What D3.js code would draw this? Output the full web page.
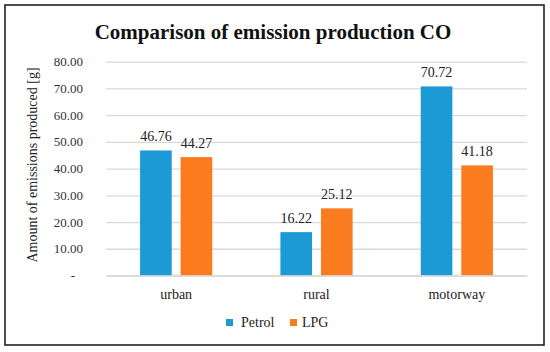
<!DOCTYPE html>
<html><head><meta charset="utf-8">
<script src="https://cdn.jsdelivr.net/npm/d3@7"></script>
<style>body{margin:0;background:#fff}svg{display:block}</style>
</head><body><svg id="c" width="550" height="352"></svg>
<script>
const categories = ["urban", "rural", "motorway"];
const seriesNames = ["Petrol", "LPG"];
const petrol = [46.76, 16.22, 70.72];
const lpg = [44.27, 25.12, 41.18];
const yTicks = [0, 10, 20, 30, 40, 50, 60, 70, 80];
const colors = ["#1b9ad6", "#fb7b1f"];
const FONT = '"Liberation Serif","Times New Roman",serif';

const svg = d3.select("#c");
svg.append("rect").attr("x",5).attr("y",5).attr("width",539).attr("height",340)
  .attr("fill","#fff").attr("stroke","#222").attr("stroke-width",1.6);

const m = {l:106, r:527, t:61.6, b:275.5};
const x0 = d3.scaleBand().domain(categories).range([m.l, m.r]);
const x1 = d3.scaleBand().domain(seriesNames).range([0, x0.bandwidth()]).paddingInner(0.22).paddingOuter(0.84);
const y = d3.scaleLinear().domain([0,80]).range([m.b, m.t]);

const grid = svg.append("g").attr("transform",`translate(${m.l},0)`)
  .call(d3.axisLeft(y).tickValues(yTicks).tickSize(-(m.r-m.l)).tickFormat(d => d===0 ? "-" : d3.format(".2f")(d)).tickPadding(23));
grid.attr("font-family", FONT);
grid.select(".domain").remove();
grid.selectAll(".tick line").attr("stroke","#d9d9d9").attr("stroke-width",1.3);
grid.selectAll(".tick text").style("font-family",FONT).style("font-size","13px").attr("fill","#333").attr("dx", d => d===0 ? -8 : 0);

const data = [petrol, lpg];
categories.forEach((c,i) => {
  seriesNames.forEach((s,j) => {
    const v = data[j][i];
    svg.append("rect").attr("x", x0(c)+x1(s)).attr("y", y(v)).attr("width", x1.bandwidth()).attr("height", y(0)-y(v)).attr("fill", colors[j]);
    svg.append("text").attr("x", x0(c)+x1(s)+x1.bandwidth()/2).attr("y", y(v)-9).attr("text-anchor","middle")
      .style("font-family",FONT).style("font-size","14px").attr("fill","#222").text(v.toFixed(2));
  });
});

const xa = svg.append("g").attr("transform",`translate(0,${m.b})`).call(d3.axisBottom(x0).tickSize(0).tickPadding(14));
xa.attr("font-family", FONT);
xa.select(".domain").attr("stroke","#d9d9d9").attr("stroke-width",1.3);
xa.selectAll("text").style("font-family",FONT).style("font-size","14px").attr("fill","#222");

svg.append("text").attr("x",273).attr("y",39).attr("text-anchor","middle")
  .style("font-family",FONT).style("font-size","21px").style("font-weight","bold").attr("fill","#111").text("Comparison of emission production CO");

svg.append("text").attr("transform","translate(37,165) rotate(-90)").attr("text-anchor","middle")
  .style("font-family",FONT).style("font-size","14px").attr("fill","#222").text("Amount of emissions produced [g]");

const leg = svg.append("g");
const legX = [226, 290];
seriesNames.forEach((s,j) => {
  leg.append("rect").attr("x",legX[j]).attr("y",319).attr("width",7).attr("height",7).attr("fill",colors[j]);
  leg.append("text").attr("x",legX[j]+(j===0?15:12)).attr("y",327).style("font-family",FONT).style("font-size","14px").attr("fill","#222").text(s);
});
</script></body></html>
